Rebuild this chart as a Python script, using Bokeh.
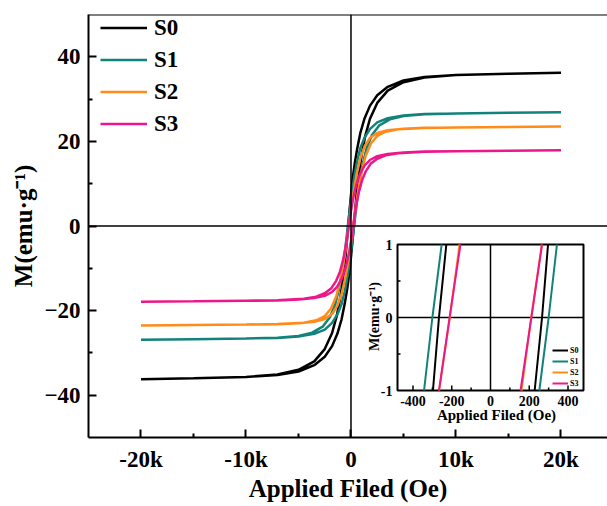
import math
from bokeh.plotting import figure
from bokeh.models import Range1d, FixedTicker, Span, Legend, LegendItem
from bokeh.core.properties import value
from bokeh.embed import file_html
from bokeh.resources import INLINE

# ---------------- data ----------------
series = ["S0", "S1", "S2", "S3"]
colors = ["#000000", "#11837a", "#ff8c1a", "#ec178a"]

# descending branch (+20 kOe -> -20 kOe); the ascending branch is its point reflection
H_S0 = [20000, 15000, 10000, 7000, 5000, 3500, 2500, 1800, 1300, 900, 600, 350, 150, 0, -130,
        -228, -266, -297, -400, -550, -750, -1000, -1350, -1800, -2500, -3500, -5000, -7000,
        -10000, -15000, -20000]
M_S0 = [36.2, 36.0, 35.7, 35.2, 34.4, 32.9, 30.9, 28.4, 25.5, 22.1, 18.4, 14.7, 11.0, 7.3, 3.8,
        1.0, 0.0, -1.0, -3.9, -8.0, -12.4, -16.6, -21.2, -25.3, -29.1, -32.0, -34.0, -35.1,
        -35.7, -36.0, -36.2]

H_S1 = [20000, 15000, 10000, 7000, 5000, 3500, 2500, 1800, 1300, 900, 600, 350, 150, 0, -150,
        -252, -300, -343, -450, -600, -800, -1100, -1500, -2000, -2700, -3700, -5000, -7000,
        -10000, -15000, -20000]
M_S1 = [26.9, 26.75, 26.6, 26.45, 26.15, 25.5, 24.5, 22.9, 20.9, 18.5, 15.5, 12.2, 9.0, 6.2, 3.1,
        1.0, 0.0, -1.0, -3.3, -6.4, -10.1, -14.5, -18.5, -21.5, -23.8, -25.2, -26.0, -26.4,
        -26.6, -26.75, -26.9]

H_S2 = [20000, 15000, 10000, 7000, 5000, 3500, 2500, 1800, 1300, 900, 600, 350, 150, 0, -100,
        -160, -210, -265, -400, -550, -750, -1050, -1400, -1900, -2500, -3300, -4500, -7000,
        -10000, -15000, -20000]
M_S2 = [23.5, 23.4, 23.3, 23.2, 23.0, 22.65, 22.0, 20.8, 18.85, 16.1, 12.9, 9.6, 6.5, 3.9, 2.1,
        1.0, 0.0, -1.0, -3.5, -6.2, -9.3, -13.2, -16.6, -19.5, -21.3, -22.3, -22.85, -23.15,
        -23.3, -23.4, -23.5]

H_S3 = [20000, 15000, 10000, 7000, 5000, 3500, 2500, 1800, 1300, 900, 600, 350, 150, 0, -100,
        -155, -211, -266, -400, -550, -750, -1050, -1400, -1900, -2500, -3300, -4500, -7000,
        -10000, -15000, -20000]
M_S3 = [17.9, 17.8, 17.7, 17.6, 17.4, 17.05, 16.5, 15.6, 14.3, 12.55, 10.6, 8.2, 5.8, 3.6, 2.0,
        1.0, 0.0, -1.0, -3.3, -5.5, -8.0, -10.8, -12.9, -14.8, -15.9, -16.7, -17.2, -17.55,
        -17.65, -17.8, -17.9]

H_desc = [H_S0, H_S1, H_S2, H_S3]
M_desc = [M_S0, M_S1, M_S2, M_S3]

x_ticks = [-20000, -10000, 0, 10000, 20000]
x_tick_labels = ["-20k", "-10k", "0", "10k", "20k"]
x_minor = [-15000, -5000, 5000, 15000]
y_ticks = [-40, -20, 0, 20, 40]
y_minor = [-30, -10, 10, 30]

inset_x_ticks = [-400, -200, 0, 200, 400]
inset_x_minor = [-300, -100, 100, 300]
inset_y_ticks = [-1, 0, 1]
inset_y_minor = [-0.5, 0.5]

# ---------------- layout ----------------
FONT = "Liberation Serif"
W, H = 607, 506
FL, FT, FR, FB = 88, 14, 607, 437          # main frame in pixels
IL, IT, IR, IB = 397, 244, 583, 390         # inset box in pixels
INSET_X = (-480, 480)
INSET_Y = (-1, 1)
X0, X1, Y0, Y1 = -25000, 24430, -50, 50

p = figure(width=W, height=H, x_range=Range1d(X0, X1), y_range=Range1d(Y0, Y1),
           output_backend="svg", toolbar_location=None,
           min_border_left=FL, min_border_right=W - FR, min_border_top=FT, min_border_bottom=H - FB)
p.outline_line_color = None
p.grid.visible = False
p.background_fill_color = "white"

for ax in (p.xaxis[0], p.yaxis[0]):
    ax.axis_line_width = 2
    ax.major_tick_in = 8
    ax.major_tick_out = 0
    ax.minor_tick_in = 4
    ax.minor_tick_out = 0
    ax.major_tick_line_width = 2
    ax.minor_tick_line_width = 2
    ax.major_label_text_font = FONT
    ax.major_label_text_font_style = "bold"
    ax.major_label_text_font_size = "23px"
    ax.major_label_text_color = "black"
    ax.major_label_text_line_height = 1.0
    ax.axis_label_text_font = FONT
    ax.axis_label_text_font_style = "bold"
    ax.axis_label_text_font_size = "25px"
    ax.axis_label_text_color = "black"
    ax.axis_label_text_line_height = 1.0

p.xaxis.ticker = FixedTicker(ticks=x_ticks, minor_ticks=x_minor)
p.xaxis.major_label_overrides = {t: l for t, l in zip(x_ticks, x_tick_labels)}
p.xaxis.major_label_standoff = 9
p.xaxis.axis_label = "Applied Filed (Oe)"
p.xaxis.axis_label_standoff = 0

p.yaxis.ticker = FixedTicker(ticks=y_ticks, minor_ticks=y_minor)
p.yaxis.major_label_standoff = 8
p.yaxis.axis_label = "M(emu\u00b7g\u207b\u00b9)"
p.yaxis.axis_label_standoff = 4

p.add_layout(Span(location=Y1, dimension="width", line_color="black", line_width=2))
p.add_layout(Span(location=0, dimension="width", line_color="black", line_width=1.5))
p.add_layout(Span(location=0, dimension="height", line_color="black", line_width=1.5))

main_items = []
for name, col, hd, md in zip(series, colors, H_desc, M_desc):
    xs = hd + [-h for h in hd]
    ys = md + [-m for m in md]
    r = p.line(xs, ys, line_color=col, line_width=2.5)
    main_items.append(LegendItem(label=name, renderers=[r]))

leg = Legend(items=main_items, location=(12, 300), orientation="vertical",
             label_text_font=FONT, label_text_font_style="bold", label_text_font_size="23px",
             label_text_color="black",
             glyph_width=47, glyph_height=27, label_height=27, label_standoff=7, spacing=5,
             padding=0, margin=0, background_fill_alpha=0, border_line_color=None)
p.add_layout(leg)

# ---------------- inset (b) via extra ranges ----------------
kx = (INSET_X[1] - INSET_X[0]) / (IR - IL)
ky = (INSET_Y[1] - INSET_Y[0]) / (IB - IT)
p.extra_x_ranges = {"ix": Range1d(INSET_X[0] - (IL - FL) * kx, INSET_X[1] + (FR - IR) * kx)}
p.extra_y_ranges = {"iy": Range1d(INSET_Y[0] - (FB - IB) * ky, INSET_Y[1] + (IT - FT) * ky)}
RN = dict(x_range_name="ix", y_range_name="iy")

p.quad(left=INSET_X[0], right=INSET_X[1], bottom=INSET_Y[0], top=INSET_Y[1],
       fill_color="white", line_color="black", line_width=2, **RN)
p.segment(x0=[0, INSET_X[0]], y0=[INSET_Y[0], 0], x1=[0, INSET_X[1]], y1=[INSET_Y[1], 0],
          line_color="black", line_width=1.5, **RN)

# inset ticks (inward)
tx = [t for t in inset_x_ticks if t != 0]
p.segment(x0=tx, y0=[INSET_Y[0]] * len(tx), x1=tx, y1=[INSET_Y[0] + 5 * ky] * len(tx),
          line_color="black", line_width=1.5, **RN)
p.segment(x0=inset_x_minor, y0=[INSET_Y[0]] * len(inset_x_minor), x1=inset_x_minor,
          y1=[INSET_Y[0] + 3 * ky] * len(inset_x_minor), line_color="black", line_width=1.5, **RN)
p.segment(x0=[INSET_X[0]] * len(inset_y_minor), y0=inset_y_minor,
          x1=[INSET_X[0] + 3 * kx] * len(inset_y_minor), y1=inset_y_minor,
          line_color="black", line_width=1.5, **RN)

inset_items = []
for name, col, hd, md in zip(series, colors, H_desc, M_desc):
    ha = [-h for h in hd]
    ma = [-m for m in md]
    d = [(h, m) for h, m in zip(hd, md) if abs(m) <= 1 and abs(h) <= INSET_X[1]]
    a = [(h, m) for h, m in zip(ha, ma) if abs(m) <= 1 and abs(h) <= INSET_X[1]]
    r = p.multi_line(xs=[[q[0] for q in d], [q[0] for q in a]], ys=[[q[1] for q in d], [q[1] for q in a]],
                     line_color=col, line_width=2, **RN)
    inset_items.append(LegendItem(label=name, renderers=[r]))

p.text(x=inset_x_ticks, y=[INSET_Y[0] - 5 * ky] * len(inset_x_ticks),
       text=[str(t) for t in inset_x_ticks], text_align="center", text_baseline="top",
       text_font=value(FONT), text_font_style="bold", text_font_size="14px", **RN)
p.text(x=[INSET_X[0] - 5 * kx] * len(inset_y_ticks), y=inset_y_ticks,
       text=[str(t) for t in inset_y_ticks], text_align="right", text_baseline="middle",
       text_font=value(FONT), text_font_style="bold", text_font_size="14px", **RN)
p.text(x=[INSET_X[0] + (496 - IL) * kx], y=[INSET_Y[0] - (414 - IB) * ky], text=["Applied Filed (Oe)"],
       text_align="center", text_baseline="middle",
       text_font=value(FONT), text_font_style="bold", text_font_size="15px", **RN)
p.text(x=[INSET_X[0] - (IL - 374) * kx], y=[INSET_Y[1] - (316 - IT) * ky], text=["M(emu\u00b7g\u207b\u00b9)"],
       angle=math.pi / 2, text_align="center", text_baseline="middle",
       text_font=value(FONT), text_font_style="bold", text_font_size="14px", **RN)

ileg = Legend(items=inset_items, location=(IR - 31 - FL, FB - IB + 2), orientation="vertical",
              label_text_font=FONT, label_text_font_style="bold", label_text_font_size="8px",
              label_text_color="black",
              glyph_width=16, glyph_height=10, label_height=10, label_standoff=2, spacing=1,
              padding=0, margin=0, background_fill_alpha=0, border_line_color=None)
p.add_layout(ileg)

open("out.html", "w").write(file_html(p, INLINE))
